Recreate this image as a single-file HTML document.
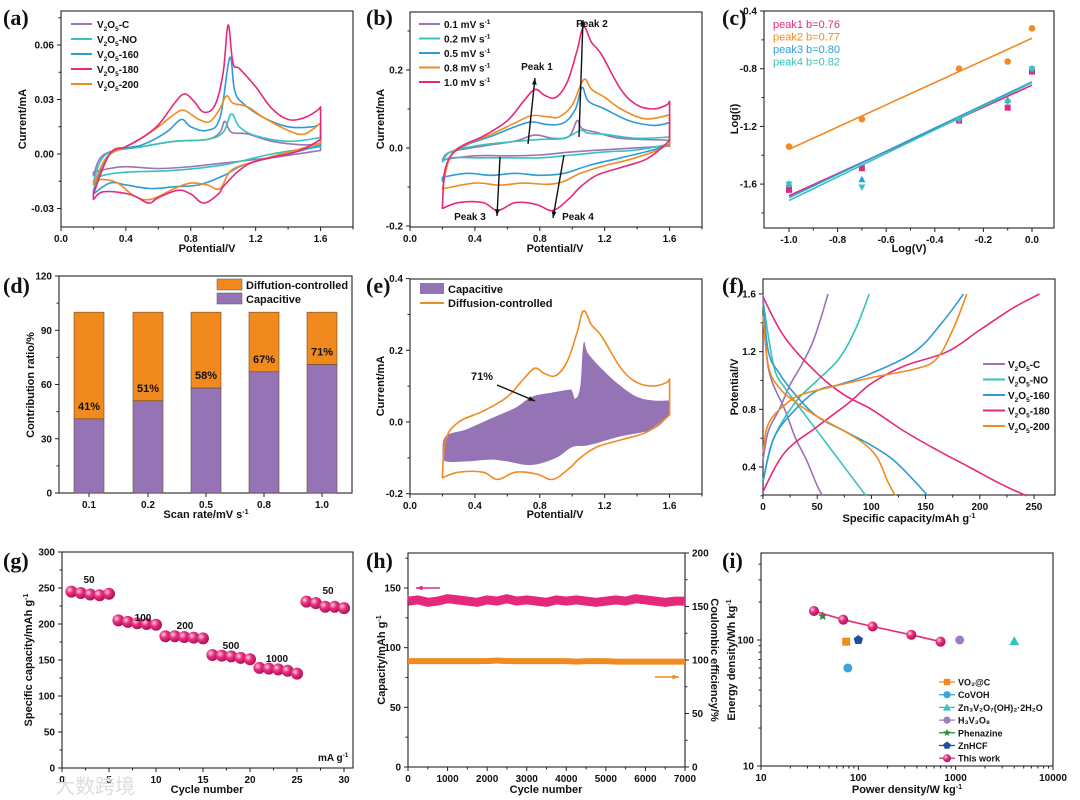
<!DOCTYPE html>
<html><head><meta charset="utf-8"><style>
html,body{margin:0;padding:0;background:#fff;}
svg{display:block;font-family:"Liberation Sans",Arial,sans-serif;}
</style></head><body>
<svg id="fig" width="1080" height="800" viewBox="0 0 1080 800" xmlns="http://www.w3.org/2000/svg">
<defs>
<radialGradient id="ball" cx="35%" cy="35%" r="65%"><stop offset="0" stop-color="#ffd0e4"/><stop offset="0.45" stop-color="#e8317f"/><stop offset="1" stop-color="#b0105a"/></radialGradient>
</defs>
</svg>
<script>
// ---------- data ----------
const aC_V=[0.2,0.27,0.5,0.7,0.9,0.98,1.01,1.05,1.15,1.3,1.5,1.6,1.6,1.3,1.0,0.8,0.6,0.4,0.3,0.2];
const aC_I=[-0.012,0,0.004,0.007,0.008,0.012,0.018,0.012,0.011,0.007,0.005,0.006,0.002,-0.002,-0.005,-0.007,-0.008,-0.007,-0.008,-0.01];
const aNO_V=[0.2,0.28,0.5,0.7,0.9,1.0,1.05,1.1,1.2,1.4,1.6,1.6,1.3,1.0,0.7,0.4,0.25,0.2];
const aNO_I=[-0.015,0,0.004,0.007,0.008,0.012,0.022,0.015,0.01,0.007,0.009,0.004,0,-0.006,-0.009,-0.01,-0.012,-0.015];
const a160_V=[0.2,0.3,0.5,0.65,0.74,0.8,0.9,0.98,1.04,1.07,1.12,1.25,1.4,1.55,1.6,1.6,1.4,1.2,1.1,1.0,0.85,0.7,0.55,0.4,0.3,0.2];
const a160_I=[-0.02,0,0.005,0.012,0.019,0.015,0.013,0.02,0.053,0.035,0.028,0.02,0.015,0.015,0.017,0.005,0,-0.004,-0.007,-0.012,-0.017,-0.018,-0.019,-0.017,-0.016,-0.022];
const a180_V=[0.2,0.3,0.4,0.5,0.6,0.7,0.76,0.82,0.88,0.95,1.0,1.03,1.06,1.1,1.2,1.3,1.4,1.5,1.58,1.6,1.6,1.5,1.4,1.2,1.1,1.0,0.97,0.88,0.8,0.72,0.6,0.54,0.45,0.35,0.25,0.2];
const a180_I=[-0.022,0,0.004,0.009,0.016,0.028,0.033,0.029,0.023,0.027,0.045,0.071,0.05,0.047,0.037,0.025,0.019,0.02,0.024,0.026,0.008,0.003,0,-0.004,-0.009,-0.018,-0.022,-0.027,-0.022,-0.02,-0.024,-0.027,-0.023,-0.021,-0.021,-0.025];
const a200_V=[0.2,0.28,0.4,0.5,0.6,0.7,0.76,0.85,0.92,0.98,1.02,1.06,1.15,1.25,1.4,1.5,1.6,1.6,1.4,1.2,1.05,0.98,0.9,0.8,0.7,0.55,0.45,0.35,0.25,0.2];
const a200_I=[-0.017,-0.002,0.004,0.009,0.015,0.022,0.024,0.019,0.018,0.025,0.032,0.028,0.026,0.02,0.013,0.011,0.017,0.006,0.001,-0.004,-0.009,-0.019,-0.017,-0.016,-0.019,-0.025,-0.023,-0.016,-0.014,-0.016];

const b01_V=[0.2,0.25,0.45,0.65,0.77,0.88,0.98,1.03,1.06,1.15,1.3,1.6,1.6,1.3,1.0,0.8,0.6,0.4,0.2];
const b01_I=[-0.03,-0.01,0.005,0.018,0.033,0.025,0.03,0.07,0.05,0.04,0.025,0.02,0.005,-0.002,-0.01,-0.018,-0.02,-0.02,-0.03];
const b02_V=[0.2,0.25,0.4,0.6,0.8,0.95,1.05,1.1,1.2,1.4,1.6,1.6,1.4,1.2,1.0,0.8,0.6,0.4,0.25,0.2];
const b02_I=[-0.035,-0.01,0.005,0.015,0.022,0.025,0.045,0.038,0.035,0.025,0.028,0.01,-0.005,-0.01,-0.018,-0.025,-0.025,-0.025,-0.025,-0.035];
const b05_V=[0.2,0.25,0.35,0.5,0.65,0.75,0.85,0.95,1.02,1.06,1.1,1.2,1.35,1.5,1.6,1.6,1.5,1.3,1.1,0.95,0.8,0.65,0.5,0.35,0.2];
const b05_I=[-0.085,-0.02,0.008,0.03,0.055,0.067,0.06,0.065,0.1,0.155,0.12,0.1,0.07,0.058,0.065,0.01,-0.005,-0.025,-0.045,-0.065,-0.07,-0.065,-0.07,-0.065,-0.075];
const b08_V=[0.2,0.25,0.35,0.5,0.65,0.75,0.85,0.92,1.0,1.07,1.12,1.2,1.3,1.45,1.6,1.6,1.5,1.35,1.2,1.05,0.95,0.85,0.7,0.55,0.4,0.2];
const b08_I=[-0.105,-0.02,0.01,0.035,0.065,0.083,0.08,0.08,0.11,0.175,0.15,0.13,0.1,0.075,0.085,0.01,-0.01,-0.03,-0.045,-0.065,-0.085,-0.093,-0.09,-0.095,-0.09,-0.105];
const b10_V=[0.2,0.22,0.3,0.45,0.6,0.7,0.77,0.83,0.9,0.97,1.03,1.07,1.12,1.18,1.3,1.4,1.5,1.58,1.6,1.6,1.55,1.45,1.3,1.15,1.05,0.98,0.88,0.78,0.65,0.54,0.45,0.3,0.2];
const b10_I=[-0.15,-0.05,0,0.03,0.07,0.12,0.15,0.135,0.13,0.17,0.25,0.31,0.27,0.24,0.15,0.11,0.1,0.11,0.12,0.02,0,-0.03,-0.05,-0.07,-0.1,-0.13,-0.16,-0.145,-0.14,-0.16,-0.14,-0.14,-0.155];

const cLogV=[-1,-0.7,-0.3,-0.1,0];
const cPeak1=[-1.64,-1.49,-1.16,-1.07,-0.82];
const cPeak2=[-1.34,-1.15,-0.8,-0.75,-0.52];
const cPeak3=[-1.6,-1.57,-1.15,-1.02,-0.8];
const cPeak4=[-1.6,-1.62,-1.15,-1.03,-0.8];

const dRates=["0.1","0.2","0.5","0.8","1.0"];
const dCapacitive=[41,51,58,67,71];
const dTotal=[100,100,100,100,100];

const eCap_V=[0.2,0.22,0.35,0.5,0.65,0.75,0.85,0.98,1.0,1.02,1.05,1.07,1.1,1.2,1.3,1.4,1.5,1.6,1.6,1.5,1.3,1.1,1.0,0.9,0.75,0.6,0.5,0.35,0.22,0.2];
const eCap_I=[-0.09,-0.04,-0.02,0.01,0.04,0.07,0.08,0.09,0.085,0.065,0.1,0.22,0.19,0.14,0.1,0.07,0.06,0.06,0.02,-0.02,-0.04,-0.065,-0.07,-0.1,-0.12,-0.11,-0.105,-0.11,-0.11,-0.09];

const fC_d=[[0,1.6],[3,1.2],[8,1.0],[20,0.8],[30,0.6],[40,0.45],[50,0.27],[55,0.2]];
const fC_c=[[0,0.45],[5,0.65],[15,0.8],[25,0.97],[35,1.1],[45,1.25],[52,1.4],[60,1.6]];
const fNO_d=[[0,1.55],[10,1.1],[20,0.95],[30,0.85],[45,0.7],[60,0.55],[80,0.35],[95,0.2]];
const fNO_c=[[0,0.3],[10,0.6],[30,0.85],[50,1.0],[70,1.15],[85,1.35],[98,1.6]];
const f160_d=[[0,1.55],[5,1.2],[15,1.05],[30,0.9],[50,0.75],[75,0.65],[100,0.55],[120,0.45],[140,0.3],[152,0.2]];
const f160_c=[[0,0.3],[10,0.6],[30,0.8],[50,0.93],[70,0.97],[100,1.05],[140,1.2],[165,1.4],[185,1.6]];
const f180_d=[[0,1.58],[20,1.3],[50,1.05],[75,0.9],[100,0.8],[130,0.65],[160,0.52],[190,0.4],[220,0.28],[243,0.2]];
const f180_c=[[0,0.23],[20,0.5],[50,0.68],[80,0.85],[100,0.98],[130,1.1],[170,1.2],[200,1.35],[230,1.5],[255,1.6]];
const f200_d=[[0,1.45],[5,1.1],[15,0.95],[30,0.85],[50,0.75],[70,0.67],[90,0.58],[105,0.47],[115,0.3],[122,0.2]];
const f200_c=[[0,0.5],[5,0.7],[20,0.83],[35,0.9],[60,0.95],[100,1.02],[140,1.08],[160,1.15],[175,1.35],[188,1.6]];

const gCycles=[1,2,3,4,5,6,7,8,9,10,11,12,13,14,15,16,17,18,19,20,21,22,23,24,25,26,27,28,29,30];
const gCapacity=[245,243,241,240,242,205,203,201,200,199,183,183,182,181,180,157,156,155,153,151,139,138,137,135,131,231,229,224,224,222];

const hCycles=[0,250,500,750,1000,1250,1500,1750,2000,2250,2500,2750,3000,3250,3500,3750,4000,4250,4500,4750,5000,5250,5500,5750,6000,6250,6500,6750,7000];
const hCapacity=[139,140,138,139,141,140,139,138,140,139,141,139,140,139,138,140,139,140,139,138,139,140,139,141,140,139,138,139,139];
const hCE=[99,99,99,99,99,99,99,99,99,99.5,99,99,99,99,99,99,99,98.5,99,99,99,98.5,98.5,98.5,98.5,98.5,98.5,98.5,98.5];

const iPower=[35,70,140,350,700];
const iEnergy=[170,145,128,110,97];
const iOthers=[["VO₂@C",75,97],["CoVOH",78,60],["Zn₃V₂O₇(OH)₂·2H₂O",4000,98],["H₃V₃O₈",1100,100],["Phenazine",43,155],["ZnHCF",100,100]];

// ---------- helpers ----------
const NS="http://www.w3.org/2000/svg";
const svg=document.getElementById('fig');
function mk(tag,attrs,parent){const e=document.createElementNS(NS,tag);for(const k in attrs)e.setAttribute(k,attrs[k]);(parent||svg).appendChild(e);return e;}
function lin(d0,d1,r0,r1){return v=>r0+(v-d0)/(d1-d0)*(r1-r0);}
function logs(d0,d1,r0,r1){return v=>r0+(Math.log10(v)-d0)/(d1-d0)*(r1-r0);}
const COL={pur:"#9b72b8",teal:"#36c2bd",blue:"#2f9bd6",pink:"#e5287c",orange:"#f28a22"};

function group(name){const g=mk('g',{});return g;}
function txt(g,x,y,s,o){o=o||{};const t=mk('text',{x:x,y:y,'font-size':o.fs||10,'font-weight':o.fw||'bold','text-anchor':o.a||'middle',fill:o.fill||'#111'},g);if(o.rot)t.setAttribute('transform','rotate('+o.rot+' '+x+' '+y+')');t.textContent=s;return t;}
function rich(g,x,y,parts,o){o=o||{};const t=mk('text',{x:x,y:y,'font-size':o.fs||10,'font-weight':'bold','text-anchor':o.a||'start',fill:'#111'},g);if(o.rot)t.setAttribute('transform','rotate('+o.rot+' '+x+' '+y+')');
 parts.forEach(p=>{const s=mk('tspan',{},t);if(p[1]==='sub'){s.setAttribute('font-size',(o.fs||10)*0.65);s.setAttribute('dy',3);}else if(p[1]==='sup'){s.setAttribute('font-size',(o.fs||10)*0.65);s.setAttribute('dy',-4);}else{s.setAttribute('dy',p[2]||0);}s.textContent=p[0];});return t;}

function frame(g,P,name){const r=mk('rect',{x:P.x0,y:P.y0,width:P.x1-P.x0,height:P.y1-P.y0,fill:'none',stroke:'#222','stroke-width':1.1},g);}
function xticks(g,P,vals,labs,minor){vals.forEach((v,i)=>{const x=P.sx(v);const l=mk('line',{x1:x,x2:x,y1:P.y1,y2:P.y1+4,stroke:'#222'},g);const t=txt(g,x,P.y1+15,labs[i]);});
 (minor||[]).forEach(v=>{const x=P.sx(v);mk('line',{x1:x,x2:x,y1:P.y1,y2:P.y1+2.5,stroke:'#222'},g);});}
function yticks(g,P,vals,labs,minor,right,sy){sy=sy||P.sy;const X=right?P.x1:P.x0,d=right?1:-1;vals.forEach((v,i)=>{const y=sy(v);const l=mk('line',{x1:X,x2:X+4*d,y1:y,y2:y,stroke:'#222'},g);const t=txt(g,X+7*d,y+3.5,labs[i],{a:right?'start':'end'});});
 (minor||[]).forEach(v=>{const y=sy(v);mk('line',{x1:X,x2:X+2.5*d,y1:y,y2:y,stroke:'#222'},g);});}
function panelLabel(g,x,y,s){const t=mk('text',{x:x,y:y,'font-size':22,'font-weight':'bold','font-family':'"Liberation Serif",serif',fill:'#111'},g);t.textContent=s;}
function smooth(pts,close){let d='M'+pts[0][0].toFixed(1)+','+pts[0][1].toFixed(1);const n=pts.length;
 const vert=i=>i>=0&&i<n-1&&Math.abs(pts[i][0]-pts[i+1][0])<0.6;
 for(let i=0;i<n-1;i++){const p1=pts[i],p2=pts[i+1];
  if(vert(i)){d+=' L'+p2[0].toFixed(1)+','+p2[1].toFixed(1);continue;}
  const p0=(i>0&&!vert(i-1))?pts[i-1]:p1,p3=(i+2<n&&!vert(i+1))?pts[i+2]:p2;
  const t=0.18;const c1=[p1[0]+(p2[0]-p0[0])*t,p1[1]+(p2[1]-p0[1])*t],c2=[p2[0]-(p3[0]-p1[0])*t,p2[1]-(p3[1]-p1[1])*t];
  d+=' C'+c1[0].toFixed(1)+','+c1[1].toFixed(1)+' '+c2[0].toFixed(1)+','+c2[1].toFixed(1)+' '+p2[0].toFixed(1)+','+p2[1].toFixed(1);}
 return d+(close?' Z':'');}
function curve(g,P,xs,ys,color,name,close){const pts=xs.map((x,i)=>[P.sx(x),P.sy(ys[i])]);const p=mk('path',{d:smooth(pts,close),fill:'none',stroke:color,'stroke-width':1.6,'stroke-linejoin':'round'},g);return p;}
function arrow(g,x1,y1,x2,y2,color,name){const l=mk('line',{x1:x1,y1:y1,x2:x2,y2:y2,stroke:color,'stroke-width':1.4},g);const a=Math.atan2(y2-y1,x2-x1),s=7;const p=[[x2,y2],[x2-s*Math.cos(a-0.35),y2-s*Math.sin(a-0.35)],[x2-s*Math.cos(a+0.35),y2-s*Math.sin(a+0.35)]];mk('polygon',{points:p.map(q=>q.join(',')).join(' '),fill:color},g);}
const ticks04=[0,0.4,0.8,1.2,1.6],lab04=["0.0","0.4","0.8","1.2","1.6"],min04=[0.2,0.6,1.0,1.4,1.8];

// ---------- (a) ----------
{const g=group('panel-a-cv-samples');const P={x0:61,x1:353,y0:11,y1:227};P.sx=lin(0,1.8,61,353);P.sy=lin(0,0.03,154,99.5);
 frame(g,P,'panel-a');xticks(g,P,ticks04,lab04,min04);yticks(g,P,[-0.03,0,0.03,0.06],["-0.03","0.00","0.03","0.06"],[-0.015,0.015,0.045,0.075]);
 curve(g,P,aC_V,aC_I,COL.pur,'curve-v2o5-c',1);curve(g,P,aNO_V,aNO_I,COL.teal,'curve-v2o5-no',1);curve(g,P,a160_V,a160_I,COL.blue,'curve-v2o5-160',1);curve(g,P,a200_V,a200_I,COL.orange,'curve-v2o5-200',1);curve(g,P,a180_V,a180_I,COL.pink,'curve-v2o5-180',1);
 const L=[["C",COL.pur],["NO",COL.teal],["160",COL.blue],["180",COL.pink],["200",COL.orange]];
 L.forEach((l,i)=>{const y=24+i*15;const ln=mk('line',{x1:71,x2:92,y1:y,y2:y,stroke:l[1],'stroke-width':2},g);const t=rich(g,97,y+4,[["V"],["2",'sub'],["O",'',-3],["5",'sub'],["-"+l[0],'',-3]]);});
 txt(g,207,252,"Potential/V",{fs:11});txt(g,26,119,"Current/mA",{fs:11,rot:-90});panelLabel(g,3,25,"(a)");}

// ---------- (b) ----------
{const g=group('panel-b-cv-rates');const P={x0:410,x1:702,y0:12,y1:227};P.sx=lin(0,1.8,410,702);P.sy=lin(0,0.2,148,70);
 frame(g,P,'panel-b');xticks(g,P,ticks04,lab04,min04);yticks(g,P,[-0.2,0,0.2],["-0.2","0.0","0.2"],[-0.1,0.1,0.3]);
 curve(g,P,b01_V,b01_I,COL.pur,'curve-0.1mv',1);curve(g,P,b02_V,b02_I,COL.teal,'curve-0.2mv',1);curve(g,P,b05_V,b05_I,COL.blue,'curve-0.5mv',1);curve(g,P,b08_V,b08_I,COL.orange,'curve-0.8mv',1);curve(g,P,b10_V,b10_I,COL.pink,'curve-1.0mv',1);
 const L=[["0.1",COL.pur],["0.2",COL.teal],["0.5",COL.blue],["0.8",COL.orange],["1.0",COL.pink]];
 L.forEach((l,i)=>{const y=24+i*14.5;const ln=mk('line',{x1:419,x2:440,y1:y,y2:y,stroke:l[1],'stroke-width':2},g);const t=rich(g,444,y+4,[[l[0]+" mV s"],["-1",'sup']]);});
 arrow(g,528,144,535,78,'#111','arrow-peak1');arrow(g,579,137,583,20,'#111','arrow-peak2');arrow(g,500,157,497,216,'#111','arrow-peak3');arrow(g,564,155,553,218,'#111','arrow-peak4');
 txt(g,537,70,"Peak 1");txt(g,592,27,"Peak 2");txt(g,470,220,"Peak 3");txt(g,578,220,"Peak 4");
 txt(g,555,252,"Potential/V",{fs:11});txt(g,384,119,"Current/mA",{fs:11,rot:-90});panelLabel(g,366,25,"(b)");}

// ---------- (c) ----------
{const g=group('panel-c-b-value');const P={x0:764,x1:1054,y0:11,y1:228};P.sx=lin(-1,0,789,1032);P.sy=lin(-0.4,-0.8,11,68.7);
 frame(g,P,'panel-c');xticks(g,P,[-1,-0.8,-0.6,-0.4,-0.2,0],["-1.0","-0.8","-0.6","-0.4","-0.2","0.0"],[-0.9,-0.7,-0.5,-0.3,-0.1]);
 yticks(g,P,[-1.6,-1.2,-0.8,-0.4],["-1.6","-1.2","-0.8","-0.4"],[-1.8,-1.4,-1.0,-0.6]);
 const S=[[cPeak1,COL.pink,'sq','peak1 b=0.76'],[cPeak2,COL.orange,'ci','peak2 b=0.77'],[cPeak3,COL.blue,'tu','peak3 b=0.80'],[cPeak4,COL.teal,'td','peak4 b=0.82']];
 S.forEach((s,k)=>{const ys=s[0];const n=cLogV.length;const mx=cLogV.reduce((a,b)=>a+b)/n,my=ys.reduce((a,b)=>a+b)/n;let num=0,den=0;cLogV.forEach((x,i)=>{num+=(x-mx)*(ys[i]-my);den+=(x-mx)*(x-mx);});const m=num/den,b=my-m*mx;
  const ln=mk('line',{x1:P.sx(-1),y1:P.sy(m*-1+b),x2:P.sx(0),y2:P.sy(b),stroke:s[1],'stroke-width':1.6},g);
  cLogV.forEach((x,i)=>{const X=P.sx(x),Y=P.sy(ys[i]);let e;if(s[2]==='sq')e=mk('rect',{x:X-3,y:Y-3,width:6,height:6,fill:s[1]},g);else if(s[2]==='ci')e=mk('circle',{cx:X,cy:Y,r:3.3,fill:s[1]},g);else if(s[2]==='tu')e=mk('polygon',{points:`${X},${Y-4} ${X-3.5},${Y+2.5} ${X+3.5},${Y+2.5}`,fill:s[1]},g);else e=mk('polygon',{points:`${X},${Y+4} ${X-3.5},${Y-2.5} ${X+3.5},${Y-2.5}`,fill:s[1]},g);});
  const t=txt(g,773,28+k*12.5,s[3],{fs:11,fw:'normal',a:'start',fill:s[1]});});
 txt(g,909,252,"Log(V)",{fs:11});txt(g,738,119,"Log(i)",{fs:11,rot:-90});panelLabel(g,722,25,"(c)");}

// ---------- (d) ----------
{const g=group('panel-d-contribution');const P={x0:59,x1:352,y0:276,y1:493};P.sy=lin(0,120,493,276);const cx=[89,148,206,264,322];
 frame(g,P,'panel-d');yticks(g,P,[0,30,60,90,120],["0","30","60","90","120"],[15,45,75,105]);
 dRates.forEach((r,i)=>{const x=cx[i];const l=mk('line',{x1:x,x2:x,y1:P.y1,y2:P.y1+4,stroke:'#222'},g);const t=txt(g,x,P.y1+15,r);
  const b1=mk('rect',{x:x-15,y:P.sy(dTotal[i]),width:30,height:P.sy(dCapacitive[i])-P.sy(dTotal[i]),fill:'#f08a1e',stroke:'#6b4a2a','stroke-width':0.6},g);
  const b2=mk('rect',{x:x-15,y:P.sy(dCapacitive[i]),width:30,height:P.sy(0)-P.sy(dCapacitive[i]),fill:'#9474b4',stroke:'#6b4a2a','stroke-width':0.6},g);
  const v=txt(g,x,P.sy(dCapacitive[i])-9,dCapacitive[i]+"%",{fs:11});});
 const k1=mk('rect',{x:217,y:279,width:25,height:11,fill:'#f08a1e',stroke:'#555','stroke-width':0.5},g);
 const k2=mk('rect',{x:217,y:293,width:25,height:11,fill:'#9474b4',stroke:'#555','stroke-width':0.5},g);
 txt(g,246,289,"Diffution-controlled",{fs:11,a:'start'});txt(g,246,303,"Capacitive",{fs:11,a:'start'});
 rich(g,206,518,[["Scan rate/mV s"],["-1",'sup']],{fs:11,a:'middle'});txt(g,34,385,"Contribution ratio/%",{fs:11,rot:-90});panelLabel(g,3,293,"(d)");}

// ---------- (e) ----------
{const g=group('panel-e-capacitive-cv');const P={x0:410,x1:702,y0:279,y1:494};P.sx=lin(0,1.8,410,702);P.sy=lin(0,0.2,422,350.3);
 frame(g,P,'panel-e');xticks(g,P,ticks04,lab04,min04);yticks(g,P,[-0.2,0,0.2,0.4],["-0.2","0.0","0.2","0.4"],[-0.1,0.1,0.3]);
 const f=curve(g,P,eCap_V,eCap_I,'none','capacitive-area',1);f.setAttribute('fill','#9474b4');
 curve(g,P,b10_V,b10_I,COL.orange,'diffusion-curve',1);
 const k=mk('rect',{x:420,y:283,width:24,height:11,fill:'#9474b4'},g);
 const kl=mk('line',{x1:420,x2:444,y1:303,y2:303,stroke:COL.orange,'stroke-width':2},g);
 txt(g,448,293,"Capacitive",{fs:11,a:'start'});txt(g,448,307,"Diffusion-controlled",{fs:11,a:'start'});
 txt(g,482,380,"71%",{fs:11});arrow(g,497,385,535,401,'#111','arrow-71');
 txt(g,555,518,"Potential/V",{fs:11});txt(g,384,386,"Current/mA",{fs:11,rot:-90});panelLabel(g,366,293,"(e)");}

// ---------- (f) ----------
{const g=group('panel-f-gcd');const P={x0:763,x1:1055,y0:279,y1:495};P.sx=lin(0,250,763,1034);P.sy=lin(0.4,1.6,467,294);
 frame(g,P,'panel-f');xticks(g,P,[0,50,100,150,200,250],["0","50","100","150","200","250"],[25,75,125,175,225]);
 yticks(g,P,[0.4,0.8,1.2,1.6],["0.4","0.8","1.2","1.6"],[0.2,0.6,1.0,1.4]);
 const S=[[fC_d,fC_c,COL.pur,"C"],[fNO_d,fNO_c,COL.teal,"NO"],[f160_d,f160_c,COL.blue,"160"],[f180_d,f180_c,COL.pink,"180"],[f200_d,f200_c,COL.orange,"200"]];
 S.forEach((s,i)=>{curve(g,P,s[0].map(p=>p[0]),s[0].map(p=>p[1]),s[2],'discharge-'+s[3]);curve(g,P,s[1].map(p=>p[0]),s[1].map(p=>p[1]),s[2],'charge-'+s[3]);
  const y=364+i*15.5;const ln=mk('line',{x1:983,x2:1005,y1:y,y2:y,stroke:s[2],'stroke-width':2},g);
  const t=rich(g,1008,y+4,[["V"],["2",'sub'],["O",'',-3],["5",'sub'],["-"+s[3],'',-3]]);});
 rich(g,909,522,[["Specific capacity/mAh g"],["-1",'sup']],{fs:11,a:'middle'});txt(g,738,387,"Potential/V",{fs:11,rot:-90});panelLabel(g,722,293,"(f)");}

// ---------- (g) ----------
{const g=group('panel-g-rate');const P={x0:62,x1:353,y0:552,y1:768};P.sx=lin(0,30,62,344);P.sy=lin(0,300,768,552);
 frame(g,P,'panel-g');xticks(g,P,[0,5,10,15,20,25,30],["0","5","10","15","20","25","30"],[2.5,7.5,12.5,17.5,22.5,27.5]);
 yticks(g,P,[0,50,100,150,200,250,300],["0","50","100","150","200","250","300"],[25,75,125,175,225,275]);
 gCycles.forEach((c,i)=>{const e=mk('circle',{cx:P.sx(c),cy:P.sy(gCapacity[i]),r:6,fill:'url(#ball)'},g);});
 [["50",89,583],["100",143,621],["200",185,629],["500",231,649],["1000",277,662],["50",328,594]].forEach(a=>txt(g,a[1],a[2],a[0]));
 rich(g,318,761,[["mA g"],["-1",'sup']]);
 txt(g,207,793,"Cycle number",{fs:11});rich(g,32,660,[["Specific capacity/mAh g"],["-1",'sup']],{fs:11,a:'middle',rot:-90});panelLabel(g,3,568,"(g)");
 const w=txt(g,95,793,"大数跨境",{fs:20,fw:'normal',fill:'#ddd'});w.setAttribute('font-family','"Noto Sans CJK SC",sans-serif');}

// ---------- (h) ----------
{const g=group('panel-h-cycling');const P={x0:408,x1:685,y0:553,y1:767};P.sx=lin(0,7000,408,685);P.sy=lin(0,150,767,588);const sr=lin(0,200,767,553);
 frame(g,P,'panel-h');xticks(g,P,[0,1000,2000,3000,4000,5000,6000,7000],["0","1000","2000","3000","4000","5000","6000","7000"],[500,1500,2500,3500,4500,5500,6500]);
 yticks(g,P,[0,50,100,150],["0","50","100","150"],[25,75,125,175]);yticks(g,P,[0,50,100,150,200],["0","50","100","150","200"],[25,75,125,175],true,sr);
 const pc=hCycles.map((x,i)=>P.sx(x).toFixed(1)+','+P.sy(hCapacity[i]).toFixed(1)).join(' ');const c=mk('polyline',{points:pc,fill:'none',stroke:COL.pink,'stroke-width':9},g);
 const pe=hCycles.map((x,i)=>P.sx(x).toFixed(1)+','+sr(hCE[i]).toFixed(1)).join(' ');const ce=mk('polyline',{points:pe,fill:'none',stroke:COL.orange,'stroke-width':6},g);
 arrow(g,440,588,416,588,COL.pink,'arrow-left-axis');arrow(g,655,677,679,677,COL.orange,'arrow-right-axis');
 txt(g,546,793,"Cycle number",{fs:11});rich(g,385,660,[["Capacity/mAh g"],["-1",'sup']],{fs:11,a:'middle',rot:-90});txt(g,711,660,"Coulombic efficiency/%",{fs:11,rot:90});panelLabel(g,366,568,"(h)");}

// ---------- (i) ----------
{const g=group('panel-i-ragone');const P={x0:761,x1:1053,y0:553,y1:766};P.sx=logs(1,4,761,1053);P.sy=logs(1,2,766,640);
 frame(g,P,'panel-i');xticks(g,P,[10,100,1000,10000],["10","100","1000","10000"],[20,30,40,50,60,70,80,90,200,300,400,500,600,700,800,900,2000,3000,4000,5000,6000,7000,8000,9000]);
 yticks(g,P,[10,100],["10","100"],[20,30,40,50,60,70,80,90,200,300,400]);
 const cols=[COL.orange,"#39a6dc",COL.teal,"#a07cc0","#2e8b3e","#1f4e9a"];const shp=['sq','ci','tu','ci','st','pe'];
 function marker(X,Y,s,c){if(s==='sq')return mk('rect',{x:X-4,y:Y-4,width:8,height:8,fill:c},g);if(s==='ci')return mk('circle',{cx:X,cy:Y,r:4.5,fill:c},g);if(s==='tu')return mk('polygon',{points:`${X},${Y-5} ${X-5},${Y+4} ${X+5},${Y+4}`,fill:c},g);
  if(s==='st'){let p=[];for(let k=0;k<10;k++){const r=k%2?2.2:5,a=-Math.PI/2+k*Math.PI/5;p.push((X+r*Math.cos(a)).toFixed(1)+','+(Y+r*Math.sin(a)).toFixed(1));}return mk('polygon',{points:p.join(' '),fill:c},g);}
  let p=[];for(let k=0;k<5;k++){const a=-Math.PI/2+k*2*Math.PI/5;p.push((X+5*Math.cos(a)).toFixed(1)+','+(Y+5*Math.sin(a)).toFixed(1));}return mk('polygon',{points:p.join(' '),fill:c},g);}
 iOthers.forEach((o,i)=>{const m=marker(P.sx(o[1]),P.sy(o[2]),shp[i],cols[i]);});
 const pl=iPower.map((x,i)=>P.sx(x).toFixed(1)+','+P.sy(iEnergy[i]).toFixed(1)).join(' ');const tw=mk('polyline',{points:pl,fill:'none',stroke:COL.pink,'stroke-width':1.6},g);
 iPower.forEach((p,i)=>{const e=mk('circle',{cx:P.sx(p),cy:P.sy(iEnergy[i]),r:5,fill:'url(#ball)'},g);});
 const names=iOthers.map(o=>o[0]).concat(["This work"]);const lc=cols.concat([COL.pink]);const ls=shp.concat(['ball']);
 names.forEach((n,i)=>{const y=682+i*12.7;const ln=mk('line',{x1:939,x2:955,y1:y,y2:y,stroke:lc[i],'stroke-width':1.3},g);
  if(ls[i]==='ball')mk('circle',{cx:947,cy:y,r:4,fill:'url(#ball)'},g);else{const m=marker(947,y,ls[i],lc[i]);m.setAttribute('transform',`translate(${947*0.2},${y*0.2}) scale(0.8)`);}
  const t=txt(g,958,y+3.5,n,{fs:9,a:'start'});});
 rich(g,907,793,[["Power density/W kg"],["-1",'sup']],{fs:11,a:'middle'});rich(g,735,660,[["Energy density/Wh kg"],["-1",'sup']],{fs:11,a:'middle',rot:-90});panelLabel(g,722,568,"(i)");}
</script>
</body></html>
